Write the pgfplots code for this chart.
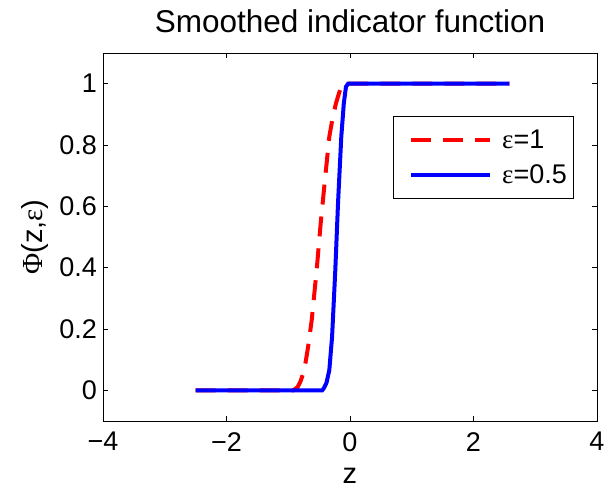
\documentclass[border=0pt]{standalone}
\usepackage{pgfplots}
\pgfplotsset{compat=1.18}
\usepackage{fontspec}
\setmainfont{Liberation Sans}
\newfontfamily\symb{Liberation Serif}
\begin{document}
\begin{tikzpicture}
\begin{axis}[
  scale only axis,
  width=494pt, height=368pt,
  xmin=-4, xmax=4, ymin=-0.1, ymax=1.1,
  xtick={-4,-2,0,2,4},
  xticklabels={−4,−2,0,2,4},
  ytick={0,0.2,0.4,0.6,0.8,1},
  yticklabels={0,0.2,0.4,0.6,0.8,1},
  tick align=inside,
  major tick length=5pt,
  tick style={black, line width=0.8pt},
  axis line style={line width=0.8pt},
  ticklabel style={font=\fontsize{27}{30}\selectfont, inner sep=0pt},
  xticklabel style={anchor=north, yshift=-11pt},
  yticklabel style={anchor=east, xshift=-6pt},
  label style={font=\fontsize{29}{32}\selectfont},
  xlabel={z},
  ylabel={{\symb Φ}(z,{\symb ε})},
  xlabel style={at={(axis description cs:0.5,0)}, anchor=center, yshift=-55pt},
  ylabel style={at={(axis description cs:-0.1377,0.5)}, anchor=center},
  title={Smoothed indicator function},
  title style={font=\fontsize{31.5}{35}\selectfont, at={(axis description cs:0.5,1)}, anchor=center, yshift=26pt},
  legend style={at={(rel axis cs:0.954,0.829)}, anchor=north east,
    draw=black, line width=0.8pt, font=\fontsize{27}{30}\selectfont,
    inner xsep=5pt, inner ysep=12pt, row sep=10pt},
  legend cell align=left,
  legend image code/.code={\path (-11pt,0pt); \draw[#1] (0pt,0pt) -- (79pt,0pt); \path (87pt,0pt);},
]
\addplot[red, line width=4pt, dash pattern=on 20pt off 12pt] coordinates {
(-2.50,0) (-0.92,0) (-0.85,0.01) (-0.80,0.03) (-0.74,0.066) (-0.68,0.14) (-0.62,0.229) (-0.54,0.392) (-0.47,0.555)
(-0.39,0.718) (-0.335,0.827) (-0.28,0.89) (-0.227,0.936) (-0.146,0.99) (-0.08,1) (-0.05,1) (2.58,1)};
\addlegendentry{{\symb ε}=1}
\addplot[blue, line width=4pt] coordinates {
(-2.50,0) (-0.45,0) (-0.42,0.008) (-0.38,0.025) (-0.335,0.066) (-0.29,0.175) (-0.238,0.392) (-0.194,0.61)
(-0.141,0.827) (-0.10,0.936) (-0.065,0.99) (-0.03,1) (2.58,1)};
\addlegendentry{{\symb ε}=0.5}
\end{axis}
\path (current axis.south west) ++(-103pt,-74pt) rectangle ++(608pt,495pt);
\end{tikzpicture}
\end{document}
